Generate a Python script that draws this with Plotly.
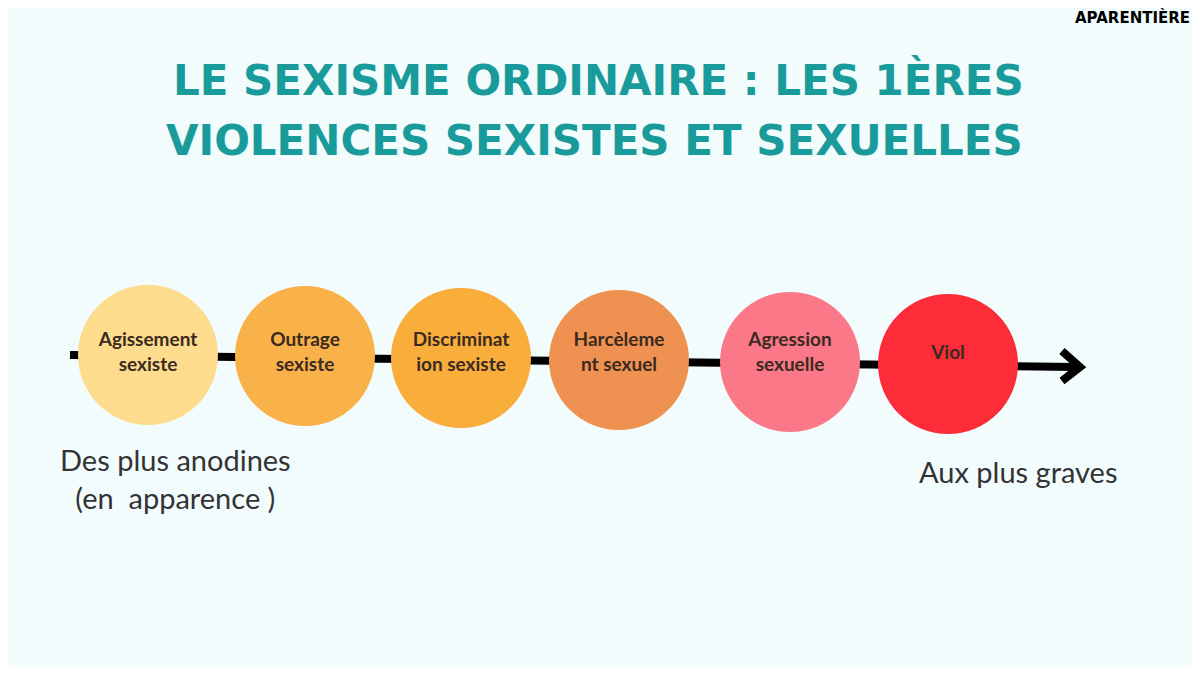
import plotly.graph_objects as go

# stages along the scale
labels = ["<b>Agissement<br>sexiste</b>", "<b>Outrage<br>sexiste</b>", "<b>Discriminat<br>ion sexiste</b>",
          "<b>Harcèleme<br>nt sexuel</b>", "<b>Agression<br>sexuelle</b>", "<b>Viol</b>"]
pos_x = [148, 305, 461, 619, 790, 948]
pos_y = [355, 356, 358, 360, 362, 364]
colors = ["#fddc8e", "#f9b24a", "#f9ae3c", "#ef9150", "#fb7889", "#fd2c39"]
label_y = [354, 354, 354, 354, 354, 354]
line_x = [70, 1075]
line_y = [355, 367]

fig = go.Figure()

fig.add_trace(go.Scatter(x=line_x, y=line_y, mode="lines",
                         line=dict(color="black", width=8), hoverinfo="skip"))
fig.add_trace(go.Scatter(x=[1062, 1080, 1062], y=[351, 367, 381], mode="lines",
                         line=dict(color="black", width=8), hoverinfo="skip"))

fig.add_trace(go.Scatter(x=pos_x, y=pos_y, mode="markers",
                         marker=dict(size=140, color=colors, line=dict(width=0)),
                         hoverinfo="skip"))
fig.add_trace(go.Scatter(x=pos_x, y=label_y, mode="text", text=labels,
                         textfont=dict(family="Lato", size=19, color="#3a2a20"),
                         hoverinfo="skip"))

fig.add_annotation(x=598, y=80, xref="x", yref="y", showarrow=False,
                   text="<b>LE SEXISME ORDINAIRE : LES 1ÈRES</b>",
                   font=dict(family="DejaVu Sans", size=42, color="#1a9b9b"))
fig.add_annotation(x=594, y=140, xref="x", yref="y", showarrow=False,
                   text="<b>VIOLENCES SEXISTES ET SEXUELLES</b>",
                   font=dict(family="DejaVu Sans", size=42, color="#1a9b9b"))
fig.add_annotation(x=1132, y=17, xref="x", yref="y", showarrow=False,
                   text="<b>APARENTIÈRE</b>",
                   font=dict(family="DejaVu Sans", size=15, color="black"))
fig.add_annotation(x=175, y=478, xref="x", yref="y", showarrow=False, align="center",
                   text="Des plus anodines<br>(en  apparence )",
                   font=dict(family="Lato", size=29, color="#333333"))
fig.add_annotation(x=1018, y=471, xref="x", yref="y", showarrow=False,
                   text="Aux plus graves",
                   font=dict(family="Lato", size=29, color="#333333"))

fig.update_layout(width=1184, height=659, margin=dict(l=0, r=0, t=0, b=0),
                  paper_bgcolor="#f3fcfd", plot_bgcolor="#f3fcfd", showlegend=False,
                  xaxis=dict(range=[8, 1192], visible=False, fixedrange=True),
                  yaxis=dict(range=[667, 8], visible=False, fixedrange=True))

fig.write_html("out.html")
